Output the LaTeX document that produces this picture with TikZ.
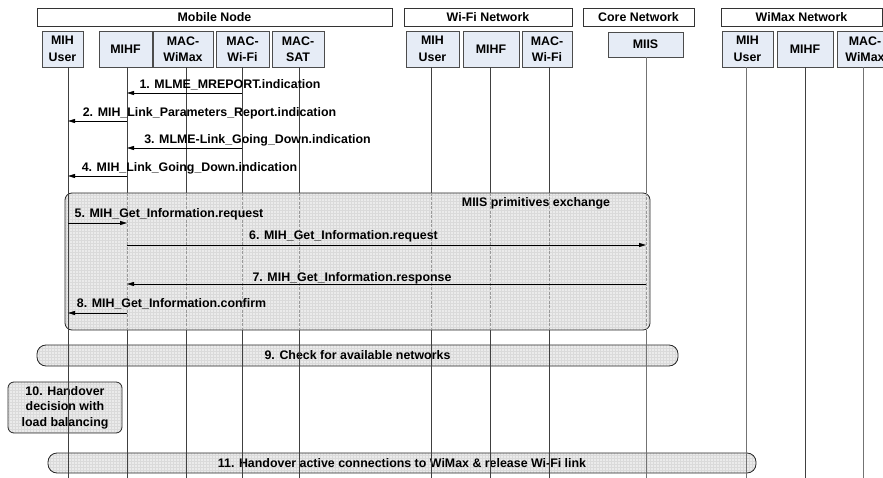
\documentclass[tikz,border=0pt]{standalone}
\usepackage{fontspec}
\setmainfont{Liberation Sans}
\usetikzlibrary{arrows.meta}
\definecolor{boxblue}{HTML}{E6ECF6}
\definecolor{gridfill}{HTML}{EBEBEB}
\definecolor{gridline}{HTML}{DADADA}
\tikzset{
  lbl/.style={font=\fontsize{12.4}{16.5}\selectfont\bfseries, inner sep=0pt},
  header/.style={lbl, draw=black!80, line width=0.8pt, fill=white, minimum height=18pt},
  comp/.style={lbl, draw=black!70, line width=0.8pt, fill=boxblue, align=center, minimum height=36pt},
  life/.style={draw=black!75, line width=0.7pt},
  lifedash/.style={draw=black!40, line width=0.6pt, dash pattern=on 3pt off 1.5pt},
  msg/.style={draw=black, line width=0.8pt, -{Triangle[length=7pt,width=4pt]}},
  msglbl/.style={lbl, anchor=base},
  gridbox/.style={draw=black!85, line width=0.8pt, fill=gridfill,
    path picture={\draw[gridline, line width=0.3pt, step=3pt]
      (path picture bounding box.south west) grid (path picture bounding box.north east);}},
}
\begin{document}
\begin{tikzpicture}[x=1pt, y=-1pt]
\useasboundingbox (0,0) rectangle (883,478);
\clip (0,0) rectangle (883,478);

% group headers
\node[header, minimum width=355pt] (hMN) at (214.5,17) {Mobile Node};
\node[header, minimum width=168pt] (hWF) at (488,17) {Wi-Fi Network};
\node[header, minimum width=111pt] (hCN) at (638.5,17) {Core Network};
\node[header, minimum width=161pt] (hWM) at (801.5,17) {WiMax Network};

% entities
\node[comp, minimum width=41pt] (mnU) at (62.5,49) {MIH\\User};
\node[comp, minimum width=53pt] (mnF) at (125.5,49) {MIHF};
\node[comp, minimum width=60pt] (mnWM) at (183,49) {MAC-\\WiMax};
\node[comp, minimum width=53pt] (mnWF) at (242.5,49) {MAC-\\Wi-Fi};
\node[comp, minimum width=52pt] (mnS) at (298,49) {MAC-\\SAT};

\node[comp, minimum width=53pt] (wfU) at (432.5,49) {MIH\\User};
\node[comp, minimum width=56pt] (wfF) at (491,49) {MIHF};
\node[comp, minimum width=50pt] (wfM) at (547,49) {MAC-\\Wi-Fi};

\node[comp, minimum width=75pt, minimum height=25pt] (miis) at (645.5,44.5) {MIIS};

\node[comp, minimum width=51pt] (wmU) at (747.5,49) {MIH\\User};
\node[comp, minimum width=56pt] (wmF) at (805,49) {MIHF};
\node[comp, minimum width=56pt] (wmM) at (865,49) {MAC-\\WiMax};

% lifeline ends
\coordinate (eU)  at (68,478);
\coordinate (eF)  at (127,478);
\coordinate (eWM) at (186,478);
\coordinate (eWF) at (242,478);
\coordinate (eS)  at (299,478);
\coordinate (fU)  at (431,478);
\coordinate (fF)  at (490,478);
\coordinate (fM)  at (549,478);
\coordinate (cI)  at (646,478);
\coordinate (xU)  at (746,478);
\coordinate (xF)  at (805,478);
\coordinate (xM)  at (863,478);

% activity boxes below the exchange
\node[gridbox, lbl, rounded corners=9pt, minimum width=641pt, minimum height=21pt] (chk) at (357.5,355.5) {9. Check for available networks};
\node[gridbox, lbl, align=center, rounded corners=6pt, minimum width=114pt, minimum height=51pt,
  font=\fontsize{12.4}{15.5}\selectfont\bfseries] (hod) at (65,407.5) {10. Handover\\decision with\\load balancing};
\node[gridbox, lbl, rounded corners=9pt, minimum width=708pt, minimum height=20pt] (hoa) at (402,463) {11. Handover active connections to WiMax \& release Wi-Fi link};

% lifelines
\draw[life] (mnU.south -| eU) -- (eU);
\draw[life] (mnF.south -| eF) -- (eF);
\draw[life] (mnWM.south -| eWM) -- (eWM);
\draw[life] (mnWF.south -| eWF) -- (eWF);
\draw[life] (mnS.south -| eS) -- (eS);
\draw[life] (wfU.south -| fU) -- (fU);
\draw[life] (wfF.south -| fF) -- (fF);
\draw[life] (wfM.south -| fM) -- (fM);
\draw[life, draw=black!55] (miis.south -| cI) -- (cI);
\draw[life, draw=black!55] (wmU.south -| xU) -- (xU);
\draw[life] (wmF.south -| xF) -- (xF);
\draw[life, draw=black!55] (wmM.south -| xM) -- (xM);

% MIIS primitives exchange frame
\node[gridbox, rounded corners=7pt, minimum width=585pt, minimum height=137pt] (xch) at (357.5,261.5) {};
\node[msglbl] (xchT) at (536,207) {MIIS primitives exchange};
\draw[life] (xch.north -| eU) -- (xch.south -| eU);
\foreach \e in {eF,eWM,eWF,eS,fU,fF,fM,cI}
  \draw[lifedash] (xch.north -| \e) -- (xch.south -| \e);

% messages
\draw[msg] (eWF |- 0,93) -- (eF |- 0,93);
\node[msglbl] (m1) at (230,89) {1. MLME\_MREPORT.indication};
\draw[msg] (eF |- 0,121) -- (eU |- 0,121);
\node[msglbl] (m2) at (209.5,117) {2. MIH\_Link\_Parameters\_Report.indication};
\draw[msg] (eWF |- 0,148) -- (eF |- 0,148);
\node[msglbl] (m3) at (257.5,144) {3. MLME-Link\_Going\_Down.indication};
\draw[msg] (eF |- 0,176) -- (eU |- 0,176);
\node[msglbl] (m4) at (189.5,172) {4. MIH\_Link\_Going\_Down.indication};

\draw[msg] (eU |- 0,223) -- (eF |- 0,223);
\node[msglbl] (m5) at (169,218) {5. MIH\_Get\_Information.request};
\draw[msg] (eF |- 0,245) -- (cI |- 0,245);
\node[msglbl] (m6) at (343.5,240) {6. MIH\_Get\_Information.request};
\draw[msg] (cI |- 0,284) -- (eF |- 0,284);
\node[msglbl] (m7) at (352,281) {7. MIH\_Get\_Information.response};
\draw[msg] (eF |- 0,313) -- (eU |- 0,313);
\node[msglbl] (m8) at (171.5,307) {8. MIH\_Get\_Information.confirm};
\end{tikzpicture}
\end{document}
